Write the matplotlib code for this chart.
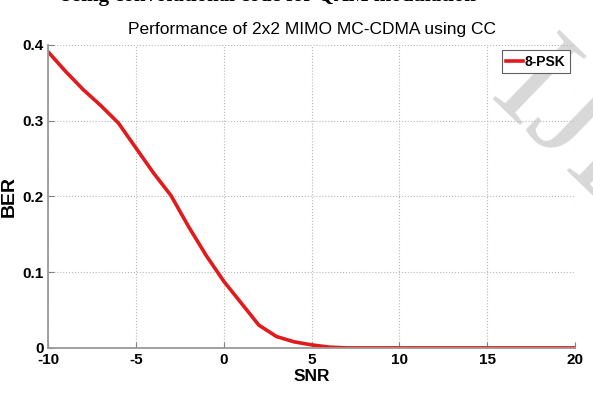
import matplotlib
matplotlib.use('Agg')
from matplotlib import pyplot as plt

snr = [-10, -9, -8, -7, -6, -5, -4, -3, -2, -1, 0, 1, 2, 3, 4, 5, 6,
       7, 8, 9, 10, 11, 12, 13, 14, 15, 16, 17, 18, 19, 20]
ber_8psk = [0.391, 0.365, 0.341, 0.320, 0.297, 0.264, 0.231, 0.201, 0.160,
            0.122, 0.088, 0.059, 0.030, 0.015, 0.008, 0.004, 0.001,
            0, 0, 0, 0, 0, 0, 0, 0, 0, 0, 0, 0, 0, 0]
xticks = [-10, -5, 0, 5, 10, 15, 20]
yticks = [0, 0.1, 0.2, 0.3, 0.4]

narrow = ['Liberation Sans Narrow', 'Liberation Sans', 'DejaVu Sans']

fig = plt.figure(figsize=(5.93, 3.94), dpi=100)

# watermark, behind the axes
fig.text(0.821, 0.751, 'IJERT', rotation=-44, rotation_mode='anchor', ha='left', va='baseline',
         fontsize=105, family='Liberation Serif', color='#d8d8d8', zorder=-1)
# page text cut off above the figure
fig.text(0.45, 0.998, 'Using convolutional code for QAM modulation', ha='center', va='baseline',
         family='Liberation Serif', fontweight='bold', fontsize=15)

ax = fig.add_axes([0.081, 0.117, 0.889, 0.769])
ax.patch.set_alpha(0)

ax.plot(snr, ber_8psk, color='#e31a1c', linewidth=2.6, label='8-PSK')

ax.set_xlim(-10, 20)
ax.set_ylim(0, 0.4)
ax.set_xticks(xticks)
ax.set_yticks(yticks)
ax.set_xticklabels([str(t) for t in xticks], family=narrow, fontweight='bold', fontsize=11)
ax.set_yticklabels(['0', '0.1', '0.2', '0.3', '0.4'], family=narrow, fontweight='bold', fontsize=11)
ax.tick_params(direction='in', length=4, color='#808080')
ax.tick_params(axis='x', pad=4)
ax.tick_params(axis='y', pad=3)

ax.grid(True, linestyle=':', color='#b8b8b8', linewidth=0.8)
for s in ['top', 'right']:
    ax.spines[s].set_visible(False)
for s in ['left', 'bottom']:
    ax.spines[s].set_color('#999999')
    ax.spines[s].set_linewidth(1.3)

ax.set_xlabel('SNR', family=narrow, fontweight='bold', fontsize=12.5, labelpad=1)
ax.set_ylabel('BER', family='Liberation Sans', fontweight='bold', fontsize=14)
ax.yaxis.set_label_coords(-0.057, 0.5)
ax.set_title('Performance of 2x2 MIMO MC-CDMA using CC', family=narrow, fontsize=12.5, pad=8)

leg = ax.legend(loc='upper right', prop={'family': narrow, 'weight': 'bold', 'size': 10},
                handlelength=1.2, handletextpad=0.15, borderpad=0.3, fancybox=False,
                framealpha=1, edgecolor='#606060', borderaxespad=0.4)
leg.get_frame().set_linewidth(0.8)

fig.savefig('out.png', dpi=100)
